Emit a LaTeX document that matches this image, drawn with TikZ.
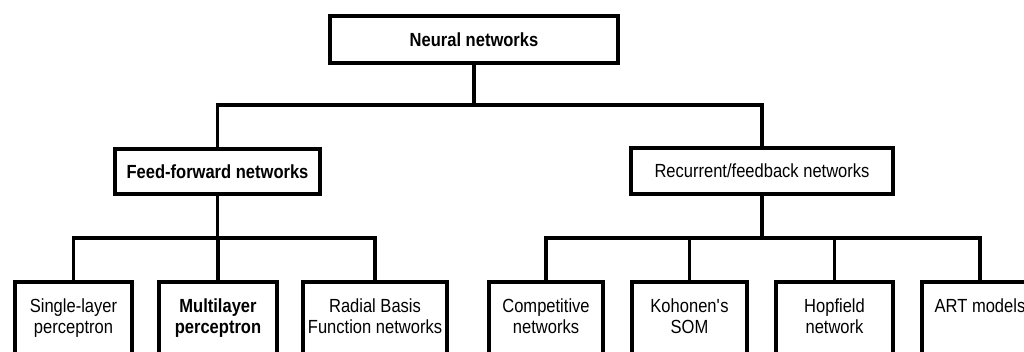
\documentclass[tikz,border=0pt]{standalone}
\usepackage{fontspec}
\setmainfont{Liberation Sans}[FakeStretch=0.87]
% Leaf text: lines hang from the top of a tall box whose lower edge runs off the page
\newcommand{\leaftext}[1]{\vbox to 75pt{\hbox to 0pt{\hss\begin{tabular}[t]{@{}c@{}}#1\end{tabular}\hss}\vss}}
\begin{document}
\begin{tikzpicture}[x=0.75pt,y=-0.75pt,
  every node/.style={font=\fontsize{14.25pt}{15.75pt}\selectfont},
  blk/.style={draw, line width=3pt, outer sep=0pt, inner sep=0pt, fill=white},
  head/.style={blk, minimum width=#1, minimum height=34pt},
  leaf/.style={blk, anchor=north, minimum width=#1, inner xsep=0pt, inner ysep=12pt},
  conn/.style={line width=2.8pt, line join=miter}]
\useasboundingbox (0,0) rectangle (1024,351);
\clip (0,0) rectangle (1024,351);

% root
\node[blk, minimum width=216pt, minimum height=35.25pt] (nn) at (474,39.5) {\bfseries Neural networks};

% second level
\node[head=153.75pt] (ff) at (217.5,171.5) {\bfseries Feed-forward networks};
\node[head=196.5pt]  (rf) at (762,171)   {Recurrent/feedback networks};

% leaves
\node[leaf=87.75pt] (slp) at (73.5,282) {\leaftext{Single-layer\\perceptron}};
\node[leaf=88.5pt]  (mlp) at (218,282)  {\leaftext{\bfseries Multilayer\\\bfseries perceptron}};
\node[leaf=108pt]   (rbf) at (375,282)  {\leaftext{Radial Basis\\Function networks}};
\node[leaf=85.5pt]  (cmp) at (546,282)  {\leaftext{Competitive\\networks}};
\node[leaf=86.25pt] (som) at (689.5,282){\leaftext{Kohonen\textquotesingle s\\SOM}};
\node[leaf=87.75pt] (hop) at (834.5,282){\leaftext{Hopfield\\network}};
\node[leaf=87pt]    (art) at (980,282)  {\leaftext{ART models\\\mbox{}}};

% bus levels
\coordinate (busA) at (0,105);
\coordinate (busB) at (0,238);

% root to second level
\draw[conn] (nn.south) -- (nn.south |- busA);
\draw[conn] (ff.north) |- (nn.south |- busA) -| (rf.north);

% feed-forward branch
\draw[conn] (ff.south) -- (ff.south |- busB);
\draw[conn] (slp.north) |- (ff.south |- busB) -| (rbf.north);
\draw[conn] (mlp.north) -- (mlp.north |- busB);

% recurrent branch
\draw[conn] (rf.south) -- (rf.south |- busB);
\draw[conn] (cmp.north) |- (rf.south |- busB) -| (art.north);
\draw[conn] (som.north) -- (som.north |- busB);
\draw[conn] (hop.north) -- (hop.north |- busB);
\end{tikzpicture}
\end{document}
